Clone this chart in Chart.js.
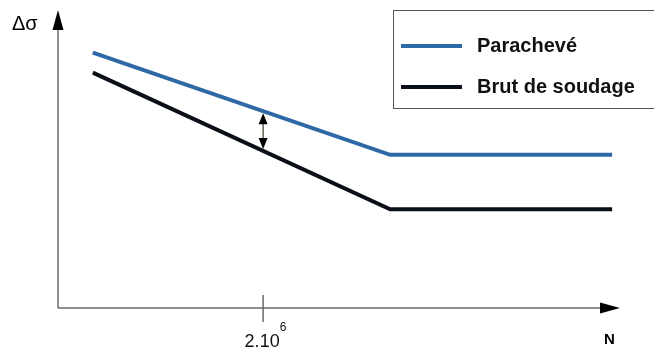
<!DOCTYPE html>
<html>
<head>
<meta charset="utf-8">
<script src="https://cdn.jsdelivr.net/npm/chart.js@4"></script>
<style>
  html, body { margin: 0; padding: 0; background: #fff; }
  #wrap { width: 654px; height: 348px; }
</style>
</head>
<body>
<div id="wrap"><canvas id="fatigueChart" width="654" height="348"></canvas></div>
<script>
"use strict";

// Positions along N (arbitrary log scale, 0..100) and stress range (0..100)
const nValues = [6.2, 59.1, 98.6];
const parachevValues = [85.7, 51.4, 51.4];
const brutValues = [79.0, 33.1, 33.1];
const seriesLabels = ["Parachevé", "Brut de soudage"];
const tickValues = [36.5];
const tickLabels = [["2.10", "6"]];
const arrowAt = 36.5;

const FONT = "'Liberation Sans', Arial, sans-serif";

function toPoints(xs, ys) {
    return xs.map((x, i) => ({ x: x, y: ys[i] }));
}

function valueAt(data, x) {
    for (let i = 0; i < data.length - 1; i++) {
        const a = data[i], b = data[i + 1];
        if (x >= a.x && x <= b.x) return a.y + (b.y - a.y) * (x - a.x) / (b.x - a.x);
    }
    return data[data.length - 1].y;
}

function arrowHead(ctx, x, y, dir, len, half) {
    // dir: 'up' | 'down' | 'right'
    ctx.beginPath();
    if (dir === "up") { ctx.moveTo(x, y); ctx.lineTo(x - half, y + len); ctx.lineTo(x + half, y + len); }
    if (dir === "down") { ctx.moveTo(x, y); ctx.lineTo(x - half, y - len); ctx.lineTo(x + half, y - len); }
    if (dir === "right") { ctx.moveTo(x, y); ctx.lineTo(x - len, y - half); ctx.lineTo(x - len, y + half); }
    ctx.closePath();
    ctx.fill();
}

/* --- axes, ticks, arrow and legend drawn on the chart --- */
const diagramPlugin = {
    id: "diagram",
    beforeDatasetsDraw(chart) {
        const { ctx, chartArea, scales } = chart;
        const ox = scales.x.getPixelForValue(0);
        const oy = scales.y.getPixelForValue(0);
        ctx.save();

        // axes
        ctx.strokeStyle = "#6b6b6b";
        ctx.lineWidth = 1.5;
        ctx.beginPath();
        ctx.moveTo(ox, oy);
        ctx.lineTo(ox, chartArea.top + 12);
        ctx.moveTo(ox, oy);
        ctx.lineTo(chartArea.right - 12, oy);
        ctx.stroke();
        ctx.fillStyle = "#000";
        arrowHead(ctx, ox, chartArea.top, "up", 20, 5.5);
        arrowHead(ctx, chartArea.right, oy, "right", 20, 5.5);

        // ticks
        tickValues.forEach((v, i) => {
            const px = scales.x.getPixelForValue(v);
            ctx.strokeStyle = "#6b6b6b";
            ctx.lineWidth = 1.5;
            ctx.beginPath();
            ctx.moveTo(px, oy - 13);
            ctx.lineTo(px, oy + 14);
            ctx.stroke();
            ctx.fillStyle = "#111";
            ctx.font = "18px " + FONT;
            const base = tickLabels[i][0];
            const sup = tickLabels[i][1];
            const w = ctx.measureText(base).width;
            ctx.textBaseline = "alphabetic";
            ctx.textAlign = "left";
            ctx.fillText(base, px - w / 2 - 1, oy + 39);
            ctx.font = "12px " + FONT;
            ctx.fillText(sup, px + w / 2 - 1, oy + 23);
        });

        // axis titles
        ctx.fillStyle = "#000";
        ctx.font = "20px " + FONT;
        ctx.textAlign = "left";
        ctx.fillText("Δσ", 12, 30);
        ctx.font = "bold 15px " + FONT;
        ctx.fillText("N", 604, 344);

        // double arrow between the two curves
        const d0 = chart.data.datasets[0].data;
        const d1 = chart.data.datasets[1].data;
        const ax = scales.x.getPixelForValue(arrowAt);
        const yTop = scales.y.getPixelForValue(valueAt(d0, arrowAt)) + 2;
        const yBot = scales.y.getPixelForValue(valueAt(d1, arrowAt)) - 2;
        ctx.strokeStyle = "#3a3a2a";
        ctx.lineWidth = 1.2;
        ctx.beginPath();
        ctx.moveTo(ax, yTop + 8);
        ctx.lineTo(ax, yBot - 8);
        ctx.stroke();
        ctx.fillStyle = "#000";
        arrowHead(ctx, ax, yTop, "up", 11, 4.5);
        arrowHead(ctx, ax, yBot, "down", 11, 4.5);

        // legend box
        ctx.strokeStyle = "#555";
        ctx.lineWidth = 1;
        ctx.strokeRect(393.5, 10.5, 270, 98);
        ctx.font = "bold 20px " + FONT;
        ctx.textBaseline = "middle";
        chart.data.datasets.forEach((ds, i) => {
            const ly = 46 + i * 41;
            ctx.strokeStyle = ds.borderColor;
            ctx.lineWidth = 4;
            ctx.beginPath();
            ctx.moveTo(401, ly);
            ctx.lineTo(462, ly);
            ctx.stroke();
            ctx.fillStyle = "#111";
            ctx.fillText(ds.label, 477, ly);
        });
        ctx.restore();
    }
};

const chart = new Chart(document.getElementById("fatigueChart"), {
    type: "line",
    data: {
        datasets: [
            {
                label: seriesLabels[0],
                data: toPoints(nValues, parachevValues),
                borderColor: "#2f69a5",
                borderWidth: 4,
                pointRadius: 0,
                tension: 0,
                fill: false
            },
            {
                label: seriesLabels[1],
                data: toPoints(nValues, brutValues),
                borderColor: "#0b0f18",
                borderWidth: 4,
                pointRadius: 0,
                tension: 0,
                fill: false
            }
        ]
    },
    options: {
        responsive: false,
        animation: false,
        layout: { padding: { left: 58, right: 34, top: 10, bottom: 40 } },
        scales: {
            x: { type: "linear", min: 0, max: 100, display: false },
            y: { type: "linear", min: 0, max: 100, display: false }
        },
        plugins: {
            legend: { display: false },
            tooltip: { enabled: false }
        }
    },
    plugins: [diagramPlugin]
});
</script>
</body>
</html>
